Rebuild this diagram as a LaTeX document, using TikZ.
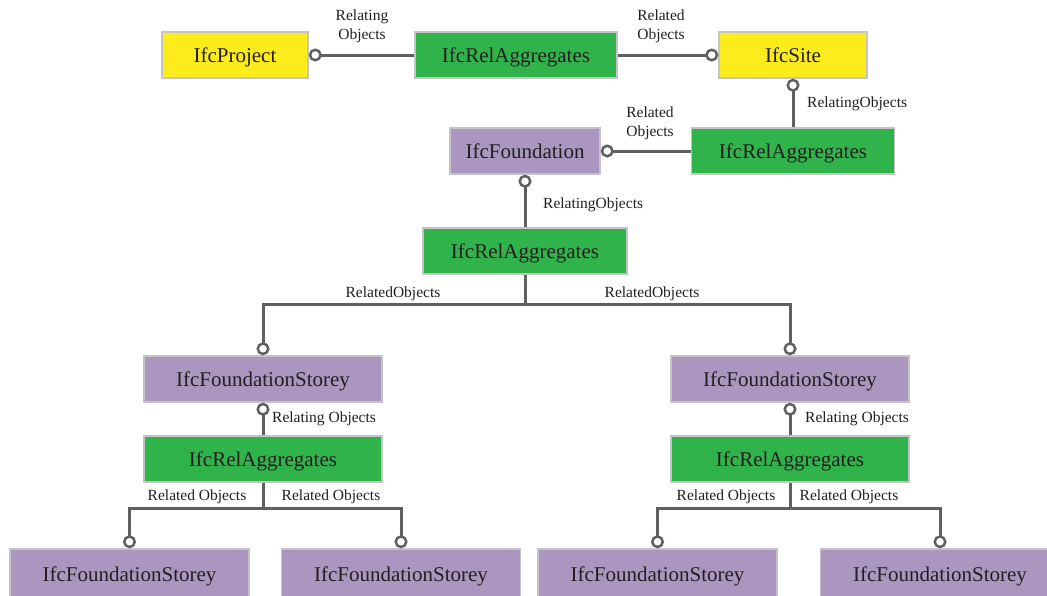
\documentclass[tikz,border=0pt]{standalone}
\usepackage{fontspec}
\setmainfont{Liberation Serif}
\usetikzlibrary{arrows.meta}

\definecolor{ifcyellow}{HTML}{FCEC1C}
\definecolor{ifcgreen}{HTML}{31B34B}
\definecolor{ifcpurple}{HTML}{AA96BF}
\definecolor{ifcedge}{HTML}{C4C4C4}
\definecolor{ifcline}{HTML}{606060}
\definecolor{ifctext}{HTML}{231F20}

\tikzset{
  ifcbox/.style={draw=ifcedge, line width=1.5pt, minimum height=46pt, inner sep=0pt,
    text height=14pt, text depth=0pt,
    text=ifctext, font=\fontsize{21}{24}\selectfont},
  spatial/.style={ifcbox, fill=ifcyellow},
  relbox/.style={ifcbox, fill=ifcgreen},
  element/.style={ifcbox, fill=ifcpurple},
  link/.style={draw=ifcline, line width=3pt},
  ring/.style={link, -{Circle[open, length=13pt, width=13pt, line width=2.5pt]}},
  role/.style={text=ifctext, font=\fontsize{15.5}{19}\selectfont, inner sep=0pt, align=center}
}

\begin{document}
\begin{tikzpicture}[x=1pt, y=-1pt]
    \useasboundingbox (0,0) rectangle (1047,595);

        % Le projet et le site
        \node[spatial, minimum width=146pt] (proj) at (235,55) {IfcProject};
        \node[relbox, minimum width=202pt] (relA) at (516,55) {IfcRelAggregates};
        \node[spatial, minimum width=148pt] (site) at (793,55) {IfcSite};

        % La fondation
        \node[relbox, minimum width=203pt] (relB) at (793,151) {IfcRelAggregates};
        \node[element, minimum width=150pt] (fnd) at (525,151) {IfcFoundation};
        \node[relbox, minimum width=204pt] (relC) at (525,251) {IfcRelAggregates};

        % Les niveaux
        \node[element, minimum width=238pt] (stL) at (263,379) {IfcFoundationStorey};
        \node[relbox, minimum width=238pt] (relL) at (263,459) {IfcRelAggregates};
        \node[element, minimum width=238pt] (stR) at (790,379) {IfcFoundationStorey};
        \node[relbox, minimum width=238pt] (relR) at (790,459) {IfcRelAggregates};

        \node[element, minimum width=239pt, minimum height=50pt] (stLL) at (129.5,574) {IfcFoundationStorey};
        \node[element, minimum width=239pt, minimum height=50pt] (stLR) at (401,574) {IfcFoundationStorey};
        \node[element, minimum width=239pt, minimum height=50pt] (stRL) at (657.5,574) {IfcFoundationStorey};
        \node[element, minimum width=239pt, minimum height=50pt] (stRR) at (940,574) {IfcFoundationStorey};

        % Les liaisons
        \draw[ring] (relA.west) -- (proj.east);
        \draw[ring] (relA.east) -- (site.west);
        \draw[ring] (relB.north) -- (site.south);
        \draw[ring] (relB.west) -- (fnd.east);
        \draw[ring] (relC.north) -- (fnd.south);

        \coordinate (busC) at (525,304);
        \draw[link] (relC.south) -- (busC);
        \draw[ring] (busC) -| (stL.north);
        \draw[ring] (busC) -| (stR.north);
        \draw[ring] (relL.north) -- (stL.south);
        \draw[ring] (relR.north) -- (stR.south);

        \coordinate (busL) at (263,508);
        \draw[link] (relL.south) -- (busL);
        \draw[ring] (busL) -| (stLL.north);
        \draw[ring] (busL) -| (stLR.north);

        \coordinate (busR) at (790,508);
        \draw[link] (relR.south) -- (busR);
        \draw[ring] (busR) -| (stRL.north);
        \draw[ring] (busR) -| (stRR.north);

        % Les roles
        \node[role] (lbA) at (362,26) {Relating\\Objects};
        \node[role] (lbB) at (661,26) {Related\\Objects};
        \node[role, anchor=west] (lbC) at (807,104) {RelatingObjects};
        \node[role] (lbD) at (650,123) {Related\\Objects};
        \node[role, anchor=west] (lbE) at (543,205) {RelatingObjects};
        \node[role] (lbF) at (393,294) {RelatedObjects};
        \node[role] (lbG) at (652,294) {RelatedObjects};
        \node[role, anchor=west] (lbH) at (272,419) {Relating Objects};
        \node[role, anchor=west] (lbI) at (805,419) {Relating Objects};
        \node[role] (lbJ) at (197,497) {Related Objects};
        \node[role] (lbK) at (331,497) {Related Objects};
        \node[role] (lbL) at (726,497) {Related Objects};
        \node[role] (lbM) at (849,497) {Related Objects};

    \end{tikzpicture}
\end{document}
